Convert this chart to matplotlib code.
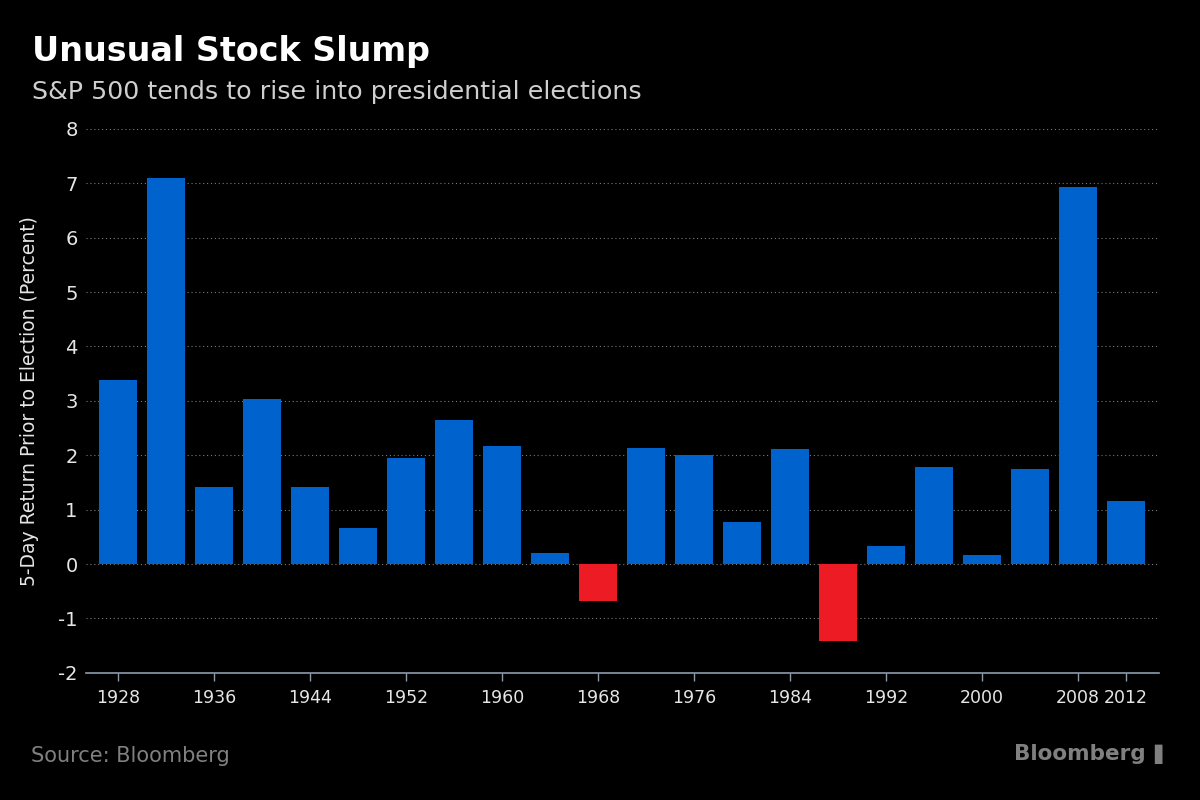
import matplotlib
matplotlib.use("Agg")
import matplotlib.pyplot as plt
import numpy as np

years = [1928, 1932, 1936, 1940, 1944, 1948, 1952, 1956, 1960, 1964, 1968,
         1972, 1976, 1980, 1984, 1988, 1992, 1996, 2000, 2004, 2008, 2012]
returns = [3.39, 7.10, 1.41, 3.04, 1.41, 0.66, 1.94, 2.64, 2.16, 0.20, -0.68,
           2.14, 2.01, 0.77, 2.12, -1.42, 0.33, 1.79, 0.17, 1.74, 6.93, 1.15]
tick_years = [1928, 1936, 1944, 1952, 1960, 1968, 1976, 1984, 1992, 2000, 2008, 2012]
y_ticks = [-2, -1, 0, 1, 2, 3, 4, 5, 6, 7, 8]

BLUE = "#0062CC"
RED = "#ED1C24"
TXT = "#E6E6E6"

plt.rcParams['font.family'] = ['DejaVu Sans']

fig = plt.figure(figsize=(12, 8), dpi=100, facecolor="black")
ax = fig.add_axes([0.0717, 0.159, 0.8943, 0.680], facecolor="black")

colors = [BLUE if v >= 0 else RED for v in returns]
ax.bar(years, returns, width=3.17, color=colors, zorder=3)

ax.set_xlim(1925.33, 2014.75)
ax.set_ylim(-2, 8)
ax.set_xticks(tick_years)
ax.set_xticklabels([str(t) for t in tick_years])
ax.set_yticks(y_ticks)
ax.set_yticklabels([str(t) for t in y_ticks])

ax.grid(axis='y', color="#7A7A7A", linestyle=(0, (1, 2.5)), linewidth=0.8, zorder=0)
ax.grid(axis='x', visible=False)

for s in ['top', 'right', 'left']:
    ax.spines[s].set_visible(False)
ax.spines['bottom'].set_color("#8C9BAB")
ax.spines['bottom'].set_linewidth(1.2)

ax.tick_params(axis='x', colors="#8C9BAB", labelcolor=TXT, labelsize=12.5, length=6, width=1, pad=6)
ax.tick_params(axis='y', length=0, labelcolor=TXT, labelsize=14, pad=6)

ax.set_ylabel("5-Day Return Prior to Election (Percent)", color=TXT, fontsize=13.5, labelpad=14)

fig.text(0.027, 0.935, "Unusual Stock Slump", color="white", fontsize=24, fontweight="bold", va="center")
fig.text(0.027, 0.885, "S&P 500 tends to rise into presidential elections", color="#CFCFCF", fontsize=18.3, va="center")
fig.text(0.026, 0.055, "Source: Bloomberg", color="#808080", fontsize=15, va="center")
fig.text(0.955, 0.057, "Bloomberg", color="#808080", fontsize=15.5, fontweight="bold", va="center", ha="right")
fig.text(0.962, 0.057, "\u258C", color="#808080", fontsize=14, va="center", ha="left")

fig.savefig("out.png", dpi=100, facecolor="black")
